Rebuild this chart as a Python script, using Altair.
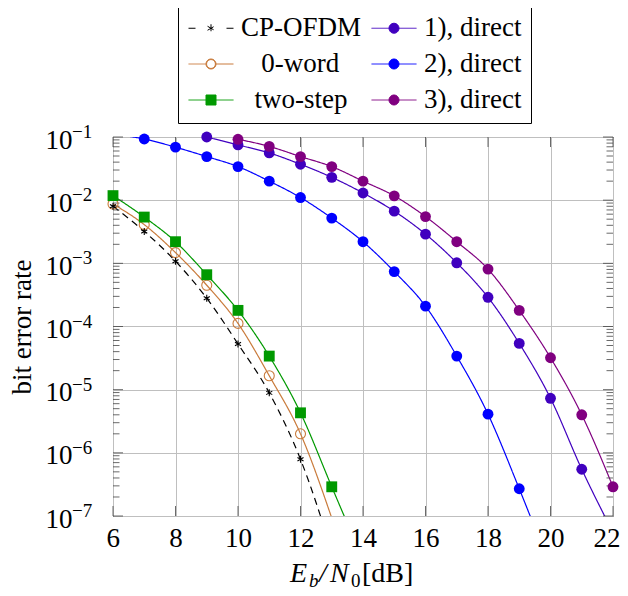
import altair as alt
import pandas as pd

FONT = "Liberation Serif"

# ---- data ----
series_names = ["CP-OFDM", "0-word", "two-step", "1), direct", "2), direct", "3), direct"]
series_colors = ["#000000", "#c97b3c", "#009900", "#4000bf", "#0000ff", "#800080"]
series_dashes = [[7, 5], [1, 0], [1, 0], [1, 0], [1, 0], [1, 0]]

x_cp = [6, 7, 8, 9, 10, 11, 12, 13]
ber_cp = [8.0e-3, 3.2e-3, 1.08e-3, 2.8e-4, 5.3e-5, 8.9e-6, 7.9e-7, 2.8e-8]

x_zero = [6, 7, 8, 9, 10, 11, 12, 13]
ber_zero = [8.7e-3, 4.1e-3, 1.48e-3, 4.5e-4, 1.12e-4, 1.66e-5, 2.0e-6, 9.3e-8]

x_two = [6, 7, 8, 9, 10, 11, 12, 13, 14]
ber_two = [1.18e-2, 5.4e-3, 2.2e-3, 6.6e-4, 1.8e-4, 3.4e-5, 4.3e-6, 2.9e-7, 2.0e-8]

x_d1 = [9, 10, 11, 12, 13, 14, 15, 16, 17, 18, 19, 20, 21, 22]
ber_d1 = [0.1, 0.075, 0.056, 0.037, 0.023, 0.013, 0.0067, 0.0029, 0.00102, 2.9e-4,
          5.4e-5, 7.3e-6, 5.5e-7, 5.5e-8]

x_d2 = [6, 7, 8, 9, 10, 11, 12, 13, 14, 15, 16, 17, 18, 19, 20]
ber_d2 = [0.111, 0.093, 0.069, 0.049, 0.034, 0.020, 0.011, 0.0052, 0.0022, 7.4e-4,
          2.1e-4, 3.4e-5, 4.1e-6, 2.7e-7, 1.5e-8]

x_d3 = [10, 11, 12, 13, 14, 15, 16, 17, 18, 19, 20, 21, 22]
ber_d3 = [0.092, 0.071, 0.049, 0.034, 0.020, 0.0117, 0.0055, 0.0022, 8.1e-4, 1.8e-4,
          3.2e-5, 4.0e-6, 2.9e-7]

x_ticks = [6, 8, 10, 12, 14, 16, 18, 20, 22]
y_decades = [1e-1, 1e-2, 1e-3, 1e-4, 1e-5, 1e-6, 1e-7]
y_exponents = ["\u22121", "\u22122", "\u22123", "\u22124", "\u22125", "\u22126", "\u22127"]
y_minor = [m * d for d in [1e-2, 1e-3, 1e-4, 1e-5, 1e-6, 1e-7] for m in range(2, 10)]

rows = []
for name, xs, ys in [("CP-OFDM", x_cp, ber_cp), ("0-word", x_zero, ber_zero),
                     ("two-step", x_two, ber_two), ("1), direct", x_d1, ber_d1),
                     ("2), direct", x_d2, ber_d2), ("3), direct", x_d3, ber_d3)]:
    for xv, yv in zip(xs, ys):
        rows.append({"series": name, "snr": xv, "ber": yv})
df = pd.DataFrame(rows)

W, H = 500, 379
xscale = alt.Scale(domain=[6, 22], nice=False, zero=False)
yscale = alt.Scale(type="log", domain=[1e-7, 1e-1], nice=False)
cscale = alt.Scale(domain=series_names, range=series_colors)

xaxis = alt.Axis(values=x_ticks, title=None, grid=True, ticks=False, domain=False,
                 labelFont=FONT, labelFontSize=27, labelColor="black",
                 labelPadding=9, labelFlush=True, labelFlushOffset=7,
                 gridColor="#bfbfbf", gridWidth=1)
yaxis = alt.Axis(values=y_decades, labelExpr="'10'", grid=True, ticks=False, domain=False,
                 labelFont=FONT, labelFontSize=27, labelColor="black",
                 labelPadding=41, labelBaseline="middle", labelOffset=3,
                 gridColor="#bfbfbf", gridWidth=1,
                 title="bit error rate", titleFont=FONT, titleFontSize=27,
                 titleFontWeight="normal", titleColor="black",
                 titleX=-83, titleY=H / 2, titleAngle=270, titleAlign="center",
                 titleBaseline="alphabetic")

# legend symbols: line + marker drawn as custom paths (unit = 5 px)
P_CIRC = "M1 0A1 1 0 1 1 -1 0A1 1 0 1 1 1 0Z"
P_RING = P_CIRC + "M0.88 0A0.88 0.88 0 1 0 -0.88 0A0.88 0.88 0 1 0 0.88 0Z"
P_FILLED = "M-4.5 0H4.5" + P_CIRC
P_OPEN = "M-4.5 0H-1M1 0H4.5" + P_RING
P_SQUARE = "M-4.5 0H4.5M-1 -1H1V1H-1Z"
P_AST = "M-4.5 0H-3.1M3.1 0H4.5M0 -0.8V0.8M-0.69 -0.4L0.69 0.4M-0.69 0.4L0.69 -0.4"
shape_expr = ("datum.value === 'CP-OFDM' ? '%s' : datum.value === '0-word' ? '%s' : "
              "datum.value === 'two-step' ? '%s' : '%s'") % (P_AST, P_OPEN, P_SQUARE, P_FILLED)
NB = "\u00a0"
ZW = "\u200b"
label_expr = ("datum.value === '0-word' ? '%s0-word' : datum.value === 'two-step' ? '%stwo-step' : "
              "datum.label") % (ZW + NB * 3, ZW + NB * 2)

legend = alt.Legend(
    title=None, orient="none", legendX=65, legendY=-132, columns=2,
    columnPadding=8, rowPadding=8, padding=9.5,
    strokeColor="black", fillColor="white",
    labelFont=FONT, labelFontSize=27, labelColor="black", labelLimit=400,
    labelExpr=label_expr,
    symbolSize=100, symbolOffset=10, labelOffset=16.5, symbolStrokeWidth=1,
    symbolType=alt.ExprRef(shape_expr),
    symbolStrokeColor=alt.ExprRef("scale('color', datum.value)"),
    symbolOpacity=1,
)

base = alt.Chart(df)

lines = base.mark_line(clip=True, interpolate="monotone", strokeWidth=1.2).encode(
    x=alt.X("snr:Q", scale=xscale, axis=xaxis),
    y=alt.Y("ber:Q", scale=yscale, axis=yaxis),
    color=alt.Color("series:N", scale=cscale, legend=legend),
    strokeDash=alt.StrokeDash("series:N", scale=alt.Scale(domain=series_names, range=series_dashes),
                              legend=None),
)

in_range = (alt.datum.ber >= 0.99e-7) & (alt.datum.ber <= 0.1001)


def pts(names, **kw):
    return base.transform_filter(alt.FieldOneOfPredicate(field="series", oneOf=names)).transform_filter(
        in_range).mark_point(clip=False, opacity=1, **kw).encode(
        x=alt.X("snr:Q", scale=xscale, axis=xaxis),
        y=alt.Y("ber:Q", scale=yscale, axis=yaxis),
        color=alt.Color("series:N", scale=cscale, legend=None),
    )


p_circ = pts(["1), direct", "2), direct", "3), direct"], shape="circle", filled=True, size=118)
p_open = pts(["0-word"], shape="circle", filled=False, size=100, strokeWidth=1.1)
p_sq = pts(["two-step"], shape="square", filled=True, size=118)
p_ast = pts(["CP-OFDM"], shape="M0 -1V1M-0.866 -0.5L0.866 0.5M-0.866 0.5L0.866 -0.5",
            filled=False, size=49, strokeWidth=1.1)

# inward tick marks (pgfplots style)
xt = pd.DataFrame({"snr": x_ticks})
xt_bot = alt.Chart(xt).mark_rule(color="#444", strokeWidth=0.8).encode(
    x=alt.X("snr:Q", scale=xscale, axis=xaxis), y=alt.value(H), y2=alt.value(H - 10))
xt_top = alt.Chart(xt).mark_rule(color="#444", strokeWidth=0.8).encode(
    x=alt.X("snr:Q", scale=xscale, axis=xaxis), y=alt.value(0), y2=alt.value(10))
ymaj = pd.DataFrame({"ber": y_decades})
ymin = pd.DataFrame({"ber": y_minor})
yt = []
for d, ln in [(ymaj, 10), (ymin, 6.5)]:
    yt.append(alt.Chart(d).mark_rule(color="#444", strokeWidth=0.8).encode(
        y=alt.Y("ber:Q", scale=yscale, axis=yaxis), x=alt.value(0), x2=alt.value(ln)))
    yt.append(alt.Chart(d).mark_rule(color="#444", strokeWidth=0.8).encode(
        y=alt.Y("ber:Q", scale=yscale, axis=yaxis), x=alt.value(W), x2=alt.value(W - ln)))

# exponents of the y tick labels
exps = alt.Chart(pd.DataFrame({"ber": y_decades, "e": y_exponents})).mark_text(
    align="left", baseline="middle", font=FONT, fontSize=19, color="black", dy=-5, clip=False
).encode(y=alt.Y("ber:Q", scale=yscale, axis=yaxis), x=alt.value(-41), text="e:N")


# x-axis title  E_b/N_0[dB]
def piece(t, x, y, size, style):
    return alt.Chart(pd.DataFrame({"t": [t]})).mark_text(
        align="left", baseline="alphabetic", font=FONT, fontSize=size, fontStyle=style, color="black"
    ).encode(x=alt.value(x), y=alt.value(y), text="t:N")


title_parts = [
    piece("E", 177, 445, 28, "italic"),
    piece("b", 196, 450, 19, "italic"),
    piece("/", 206, 445, 28, "italic"),
    piece("N", 217, 445, 28, "italic"),
    piece("0", 238, 450, 19, "normal"),
    piece("[dB]", 249, 445, 28, "normal"),
]

chart = alt.layer(
    lines, *yt, xt_bot, xt_top, p_open, p_ast, p_sq, p_circ, exps, *title_parts
).properties(
    width=W, height=H,
    padding={"left": 105, "top": 129, "right": 7, "bottom": 74},
    autosize=alt.AutoSizeParams(type="none"),
).configure_view(stroke="black", strokeWidth=1).configure_axis(labelFontWeight="normal")

chart.save("out.html", embed_options={"renderer": "svg", "actions": False})
